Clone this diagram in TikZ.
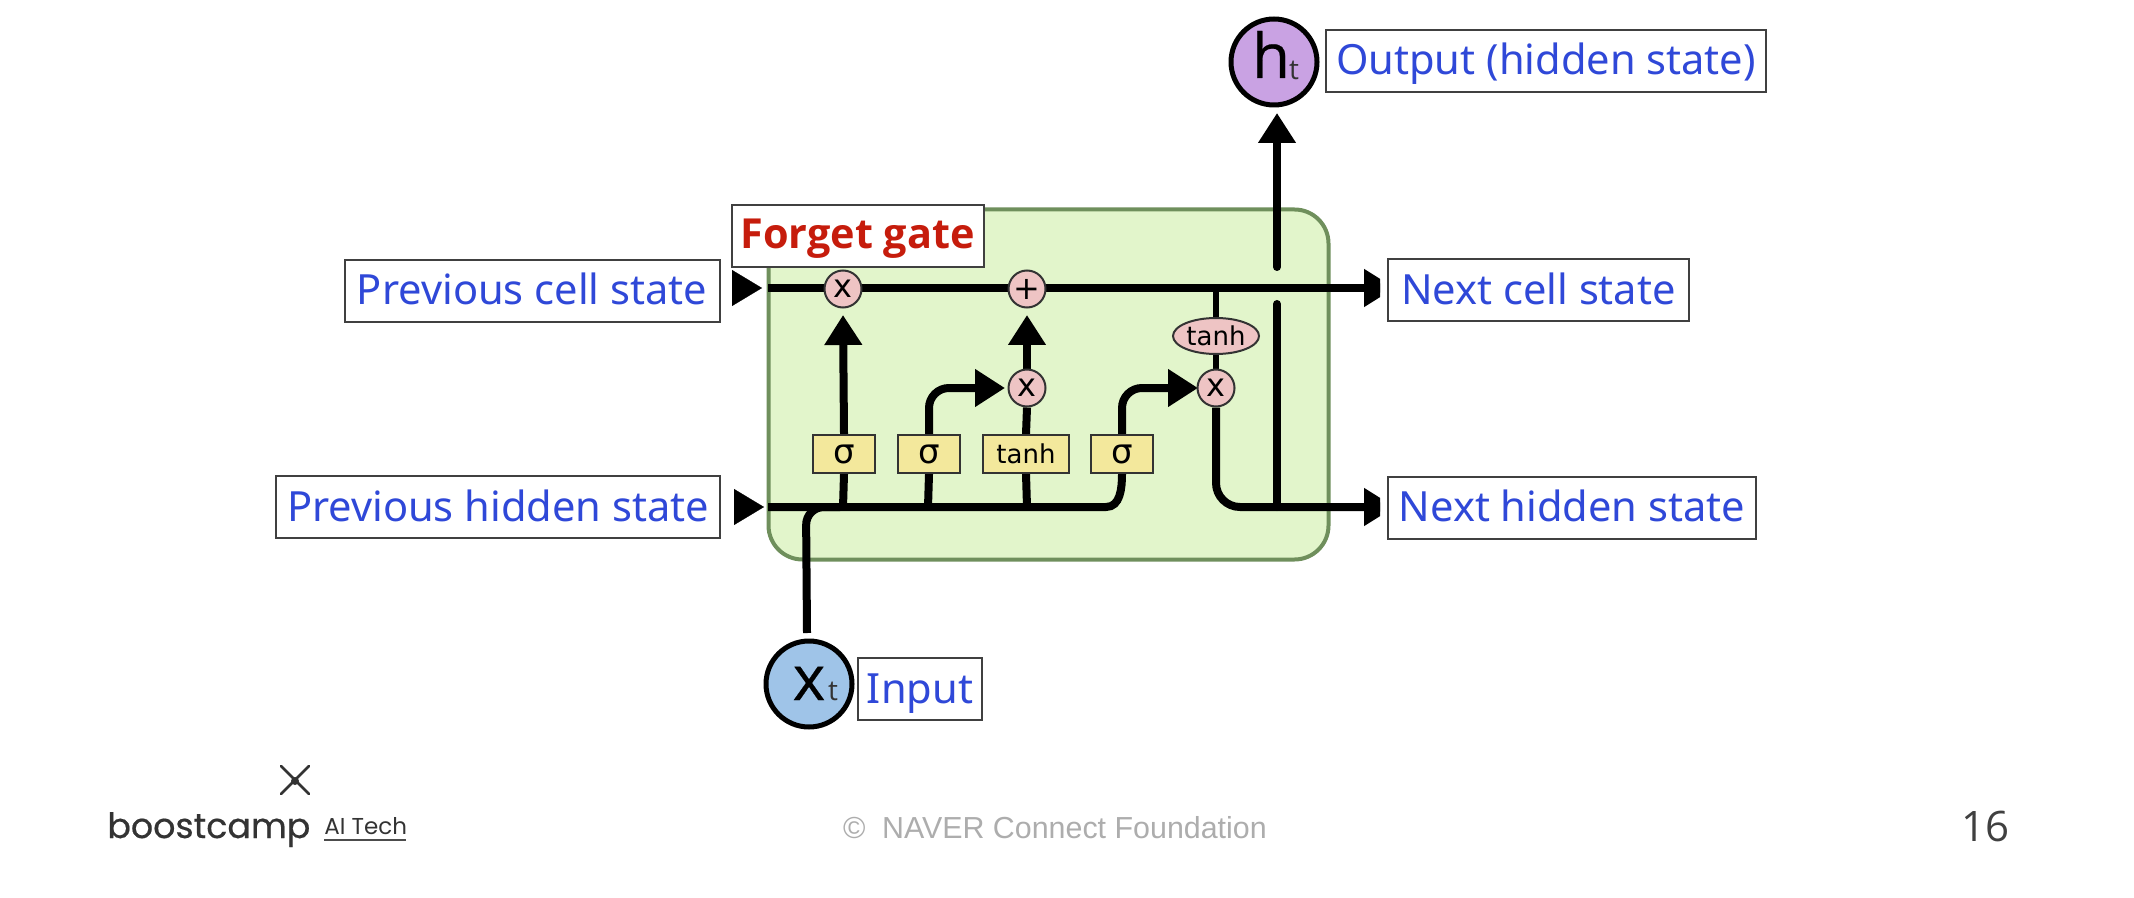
\documentclass[tikz,border=0pt]{standalone}
\usepackage{fontspec}
\setmainfont{Noto Sans}
\newfontfamily\dejavu{DejaVu Sans}
\newfontfamily\libsans{Liberation Sans}
\newfontfamily\popp{Poppins}
\newfontfamily\poppfat[FakeBold=0.5]{Poppins}
\newfontfamily\opensans{Open Sans}
\newfontfamily\openfat[FakeBold=0.4]{Open Sans}
\usetikzlibrary{arrows.meta,shapes.geometric}
\pgfdeclarelayer{cellback}
\pgfdeclarelayer{lines}
\pgfsetlayers{cellback,lines,main}
\definecolor{lblblue}{HTML}{2F48D8}
\definecolor{gfill}{HTML}{E2F5CB}
\definecolor{gedge}{HTML}{6F8F5C}
\definecolor{opfill}{HTML}{EEC4C4}
\definecolor{yfill}{HTML}{F3E89C}
\definecolor{hfill}{HTML}{C9A2E3}
\definecolor{xfill}{HTML}{9FC4E8}
\definecolor{redtxt}{HTML}{C61C0C}
\tikzset{
  lbl/.style={draw=black!75,line width=1pt,fill=white,inner sep=0pt,text=lblblue,
    font=\fontsize{20.8}{24}\selectfont,minimum height=31pt,text height=18.5pt,text depth=4.5pt},
  conn/.style={line width=4pt,draw=black},
  thin conn/.style={line width=3pt,draw=black},
  tip/.style={-{Triangle[length=15pt,width=18pt]}},
  longtip/.style={-{Triangle[length=15.5pt,width=18pt]}},
  opn/.style={circle,draw=black!80,line width=1pt,fill=opfill,minimum size=18.5pt,inner sep=0pt,
    font=\dejavu\fontsize{16}{16}\selectfont},
  tanhop/.style={ellipse,draw=black!80,line width=1pt,fill=opfill,minimum width=43pt,minimum height=18pt,inner sep=0pt,
    font=\dejavu\fontsize{13}{14}\selectfont},
  layer/.style={rectangle,draw=black!80,line width=1pt,fill=yfill,minimum height=19pt,inner sep=0pt,
    font=\dejavu\fontsize{13}{14}\selectfont},
  sigmab/.style={layer,minimum width=31pt,font=\dejavu\fontsize{17}{18}\selectfont},
  state/.style={circle,draw=black,line width=2.5pt,minimum size=43pt,inner sep=0pt},
  bigl/.style={font=\openfat\fontsize{31}{32}\selectfont,inner sep=0pt,anchor=base},
  subt/.style={font=\opensans\fontsize{14}{14}\selectfont,text=black!80,inner sep=0pt,anchor=base}
}
\begin{document}
\begin{tikzpicture}[x=0.5pt,y=-0.5pt]
\useasboundingbox (0,0) rectangle (2134,898);
\begin{pgfonlayer}{cellback}
\node[draw=gedge,line width=2pt,fill=gfill,rounded corners=17pt,minimum width=280pt,minimum height=175pt,inner sep=0pt] (cell) at (1048.5,384.5) {};
\end{pgfonlayer}
% coordinates
\coordinate (cellin) at (768,288);
\coordinate (hidin) at (768,507);
\coordinate (cellout) at (1395,288);
\coordinate (hidout) at (1395,507);
\coordinate (lcs) at (733,288);
\coordinate (lce) at (762,288);
\coordinate (lhs) at (735,507);
\coordinate (lhe) at (764,507);
\coordinate (gapa) at (1277,304);
\coordinate (gapb) at (1277,267);
\coordinate (outb) at (1277,507);
\coordinate (outtip) at (1277,113);
\coordinate (inj) at (806,507);
\coordinate (instem) at (807,633);
\coordinate (tipa) at (843,315);
\coordinate (tipb) at (1027,315);
\coordinate (tipc) at (1005,388);
\coordinate (tipd) at (1198,388);
\coordinate (hidb) at (843,507);
\coordinate (hidc) at (928,507);
\coordinate (hidd) at (1027,507);
\coordinate (tanhtop) at (1216,288);
% operators and layers
\node[opn] (m1) at (843,289) {x};
\node[opn] (a1) at (1027,289) {+};
\node[opn] (m2) at (1027,388) {x};
\node[opn] (m3) at (1216,388) {x};
\node[tanhop] (th) at (1216,336) {tanh};
\node[sigmab] (s1) at (844,454) {σ};
\node[sigmab] (s2) at (929,454) {σ};
\node[layer,minimum width=43pt] (t1) at (1026,454) {tanh};
\node[sigmab] (s4) at (1122,454) {σ};
% connectors
\begin{pgfonlayer}{lines}
\begin{scope}
\clip (700,0) rectangle (1380,898);
\draw[conn,longtip] (cellin) -- (cellout);
\draw[conn,longtip,rounded corners=12pt] (m3.south) -- (1216,507) -- (hidout);
\end{scope}
\draw[conn] (hidin) -- (1106,507) to[out=0,in=-90] (s4.south);
\draw[conn,rounded corners=9pt] (instem) -- (inj) -- (840,507);
\draw[conn] (hidb) -- (s1.south);
\draw[conn,tip] (s1.north) -- (tipa);
\draw[conn] (hidc) -- (s2.south);
\draw[conn,tip,rounded corners=10pt] (s2.north) |- (tipc);
\draw[conn] (hidd) -- (t1.south);
\draw[conn] (t1.north) -- (m2.south);
\draw[conn,tip] (m2.north) -- (tipb);
\draw[conn,tip,rounded corners=10pt] (s4.north) |- (tipd);
\draw[thin conn] (tanhtop) -- (th.north);
\draw[thin conn] (th.south) -- (m3.north);
\draw[conn,line cap=round] (outb) -- (gapa);
\draw[conn,line cap=round,tip] (gapb) -- (outtip);
\draw[line width=0.1pt,tip] (lcs) -- (lce);
\draw[line width=0.1pt,tip] (lhs) -- (lhe);
\end{pgfonlayer}
% states
\node[state,fill=hfill] (hnode) at (1274,62) {};
\node[state,fill=xfill] (xnode) at (809,684) {};
\node[bigl] (hlet) at (1271,78) {h};
\node[subt] (hsub) at (1294,80) {t};
\node[bigl] (xlet) at (809,700) {x};
\node[subt] (xsub) at (833,700) {t};
% labels
\node[lbl,minimum width=220pt] (lout) at (1546,61) {Output (hidden state)};
\node[lbl,minimum width=150.5pt] (lnc) at (1538.5,290.5) {Next cell state};
\node[lbl,minimum width=184pt] (lnh) at (1572,507.5) {Next hidden state};
\node[lbl,minimum width=187.5pt] (lpc) at (532,291) {Previous cell state};
\node[lbl,minimum width=222pt] (lph) at (498,507) {Previous hidden state};
\node[lbl,minimum width=62pt] (lin) at (920,689) {Input};
\node[draw=black!75,line width=1pt,fill=white,inner sep=0pt,minimum width=126pt,minimum height=31pt,text height=17pt,text depth=4.5pt,text=redtxt,font=\opensans\bfseries\fontsize{20.7}{22}\selectfont] (fg) at (857.5,236) {Forget gate};
% footer
\coordinate (lga) at (281,766);
\coordinate (lgb) at (309,794);
\coordinate (lgc) at (309,766);
\coordinate (lgd) at (281,794);
\coordinate (ula) at (324,840);
\coordinate (ulb) at (406,840);
\draw[line width=1.3pt,draw=black!80,line cap=round] (lga) -- (lgb);
\draw[line width=1.3pt,draw=black!80,line cap=round] (lgc) -- (lgd);
\fill[black!80] (295,781) circle (2pt);
\node[font=\poppfat\fontsize{17.4}{20}\selectfont,text=black!80,inner sep=0pt,anchor=base west] (bc) at (107,838) {boostcamp};
\node[font=\popp\fontsize{11.5}{12}\selectfont,text=black!80,inner sep=0pt,anchor=base west] (ai) at (324,834) {AI Tech};
\draw[line width=1pt,draw=black!70] (ula) -- (ulb);
\node[font=\libsans\fontsize{15.2}{16}\selectfont,text=black!32,inner sep=0pt] (cp) at (1055,828) {©\hspace{4pt} NAVER Connect Foundation};
\node[font=\opensans\fontsize{21}{22}\selectfont,text=black!75,inner sep=0pt] (pg) at (1985,826) {16};
\end{tikzpicture}
\end{document}
